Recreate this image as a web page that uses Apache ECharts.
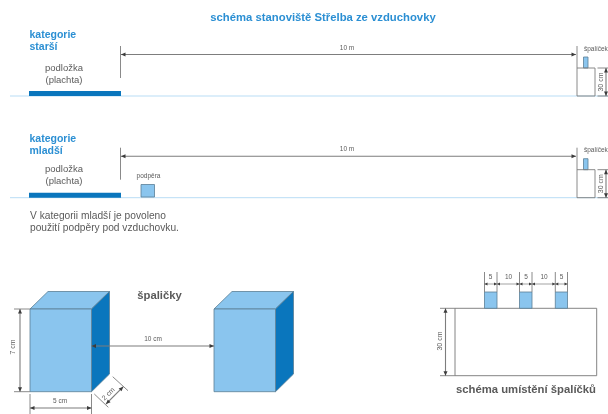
<!DOCTYPE html>
<html><head><meta charset="utf-8">
<style>html,body{margin:0;padding:0;background:#fff}#c{width:608px;height:414px}</style>
<script src="https://cdn.jsdelivr.net/npm/echarts@6/dist/echarts.min.js"></script>
</head><body><div id="c"></div>
<script>
// Diagram geometry, in the units of the drawing's own hidden x/y axes.
const ROW2 = 101.7;
const groundLines = [[10,96,608,96],[10,96+ROW2,608,96+ROW2]];
const greyLines = [
  [120.5,46,120.5,78],[120.5,46+ROW2,120.5,78+ROW2],
  [577,46,577,96],[577,46+ROW2,577,96+ROW2],
  [577,68,595,68],[595,68,595,96],[577,96,595,96],
  [577,68+ROW2,595,68+ROW2],[595,68+ROW2,595,96+ROW2],[577,96+ROW2,595,96+ROW2],
  [597.5,68,608,68],[597.5,96,608,96],[597.5,68+ROW2,608,68+ROW2],[597.5,96+ROW2,608,96+ROW2],
  [14,309,30,309],[14,391.7,30,391.7],[30,394,30,414],[91.5,394,91.5,414],
  [112.7,376.7,128,390.7],[94.3,394,108.3,407.3],
  [484.5,272,484.5,292],[497,272,497,292],[519.5,272,519.5,292],[532,272,532,292],[555.3,272,555.3,292],[567.5,272,567.5,292],
  [440,308.3,455,308.3],[440,375.7,455,375.7]
];
const arrowsBig = [
  [121,54.5,576,54.5],[121,54.5+ROW2,576,54.5+ROW2],
  [91.5,346,214,346],[20,309,20,391.7],[30,408,91.5,408],[123.3,386.7,106,404],[445.5,308.3,445.5,375.7],
  [606,68,606,96],[606,68+ROW2,606,96+ROW2]
];
const arrowsSmall = [[484.5,284,497,284],[497,284,519.5,284],[519.5,284,532,284],[532,284,555.3,284],[555.3,284,567.5,284]];
const padRects = [[29,91,121,96],[29,91+ROW2,121,96+ROW2]];
const lightRects = [
  [583.5,57,588,68],[583.5,57+ROW2,588,68+ROW2],
  [141,184.5,154.5,197],
  [30,309,91.5,391.7],[214,309,275.5,391.7],
  [484.5,292,497,308.3],[519.5,292,532,308.3],[555.3,292,567.5,308.3]
];
const outlineRects = [[455,308.3,596.7,375.7]];
const topFaces = [
  [[30,309],[48,291.5],[109.5,291.5],[91.5,309]],
  [[214,309],[232,291.5],[293.5,291.5],[275.5,309]]
];
const sideFaces = [
  [[91.5,309],[109.5,291.5],[109.5,374],[91.5,391.7]],
  [[275.5,309],[293.5,291.5],[293.5,374],[275.5,391.7]]
];
const titleTexts = [
  ['schéma stanoviště Střelba ze vzduchovky',323,18,'center']
];
const categoryTexts = [
  ['kategorie',29.5,35,'left'],['starší',29.5,47,'left'],
  ['kategorie',29.5,139.5,'left'],['mladší',29.5,151,'left']
];
const bodyTexts = [
  ['podložka',64,68,'center'],['(plachta)',64,80,'center'],
  ['podložka',64,68+ROW2,'center'],['(plachta)',64,80+ROW2,'center']
];
const noteTexts = [
  ['V kategorii mladší je povoleno',30,216.5,'left'],['použití podpěry pod vzduchovku.',30,228.5,'left']
];
const headingTexts = [
  ['špaličky',159.5,295.5,'center'],['schéma umístění špalíčků',526,390,'center']
];
const smallTexts = [
  ['10 m',347,48,'center'],['10 m',347,48+ROW2,'center'],
  ['špalíček',584,49,'left'],['špalíček',584,49+ROW2,'left'],
  ['podpěra',148.5,176,'center'],
  ['10 cm',153,339.5,'center'],['5 cm',60,401,'center'],
  ['5',490.5,277,'center'],['10',508.5,277,'center'],['5',526,277,'center'],['10',544,277,'center'],['5',561.5,277,'center']
];
const rotatedTexts = [
  ['30 cm',601,82,90],['30 cm',601,82+ROW2,90],['7 cm',13,347,90],['2 cm',108.5,394,45],['30 cm',440,341,90]
];

const BLUE='#2b8fd3', LIGHT='#8ac5ee', DARK='#0a76bd', GREY='#7d7d7d', EDGE='#5b7f96', TXT='#5a5a5a';

function seriesOf(data, render, z){
  return {type:'custom',coordinateSystem:'cartesian2d',silent:true,clip:false,z:z||2,
    data:data.map((d,i)=>[i]),encode:{x:0,y:0},
    renderItem:(p,api)=>render(data[p.dataIndex],api)};
}
const lineEl=(w,color)=>(d,api)=>{const a=api.coord([d[0],d[1]]),b=api.coord([d[2],d[3]]);
  return {type:'line',shape:{x1:a[0],y1:a[1],x2:b[0],y2:b[1]},style:{stroke:color,lineWidth:w}};};
const rectEl=(fill,stroke,w)=>(d,api)=>{const a=api.coord([d[0],d[1]]),b=api.coord([d[2],d[3]]);
  return {type:'rect',shape:{x:a[0],y:a[1],width:b[0]-a[0],height:b[1]-a[1]},style:{fill,stroke,lineWidth:w}};};
const polyEl=(fill,stroke)=>(d,api)=>({type:'polygon',shape:{points:d.map(q=>api.coord(q))},style:{fill,stroke,lineWidth:0.8}});
const textEl=(font,fill)=>(d,api)=>{const a=api.coord([d[1],d[2]]);
  return {type:'text',x:a[0],y:a[1],style:{text:d[0],font,fill,align:d[3],verticalAlign:'middle'}};};
const rotEl=(font,fill)=>(d,api)=>{const a=api.coord([d[1],d[2]]);
  return {type:'text',x:a[0],y:a[1],rotation:d[3]*Math.PI/180,style:{text:d[0],font,fill,align:'center',verticalAlign:'middle'}};};
const arrowEl=(len,half,w)=>(d,api)=>{
  const a=api.coord([d[0],d[1]]),b=api.coord([d[2],d[3]]);
  const L=Math.hypot(b[0]-a[0],b[1]-a[1]),ux=(b[0]-a[0])/L,uy=(b[1]-a[1])/L;
  const head=(p,s)=>{const bx=p[0]+s*ux*len,by=p[1]+s*uy*len;
    return {type:'polygon',shape:{points:[p,[bx-uy*half,by+ux*half],[bx+uy*half,by-ux*half]]},style:{fill:'#3c3c3c'}};};
  return {type:'group',children:[
    {type:'line',shape:{x1:a[0],y1:a[1],x2:b[0],y2:b[1]},style:{stroke:GREY,lineWidth:w}},
    head(a,1),head(b,-1)]};
};

const chart=echarts.init(document.getElementById('c'),null,{renderer:'canvas'});
chart.setOption({
  animation:false,backgroundColor:'#fff',
  grid:{left:0,right:0,top:0,bottom:0},
  xAxis:{type:'value',min:0,max:608,show:false},
  yAxis:{type:'value',min:0,max:414,inverse:true,show:false},
  series:[
    seriesOf(groundLines,lineEl(1,'#b9ddf5'),1),
    seriesOf(outlineRects,rectEl('#fff','#777',0.9),2),
    seriesOf(padRects,rectEl(DARK,null,0),3),
    seriesOf(topFaces,polyEl(LIGHT,EDGE),3),
    seriesOf(sideFaces,polyEl(DARK,EDGE),3),
    seriesOf(lightRects,rectEl(LIGHT,EDGE,0.8),3),
    seriesOf(greyLines,lineEl(0.9,GREY),4),
    seriesOf(arrowsBig,arrowEl(4.5,2,1.1),5),
    seriesOf(arrowsSmall,arrowEl(3,1.5,0.7),5),
    seriesOf(titleTexts,textEl('bold 11.3px "Liberation Sans"',BLUE),6),
    seriesOf(categoryTexts,textEl('bold 10.5px "Liberation Sans"',BLUE),6),
    seriesOf(bodyTexts,textEl('9.5px "Liberation Sans"',TXT),6),
    seriesOf(noteTexts,textEl('10.2px "Liberation Sans"',TXT),6),
    seriesOf(headingTexts,textEl('bold 11.3px "Liberation Sans"',TXT),6),
    seriesOf(smallTexts,textEl('6.5px "Liberation Sans"',TXT),6),
    seriesOf(rotatedTexts,rotEl('7px "Liberation Sans"',TXT),6)
  ]
});
</script></body></html>
